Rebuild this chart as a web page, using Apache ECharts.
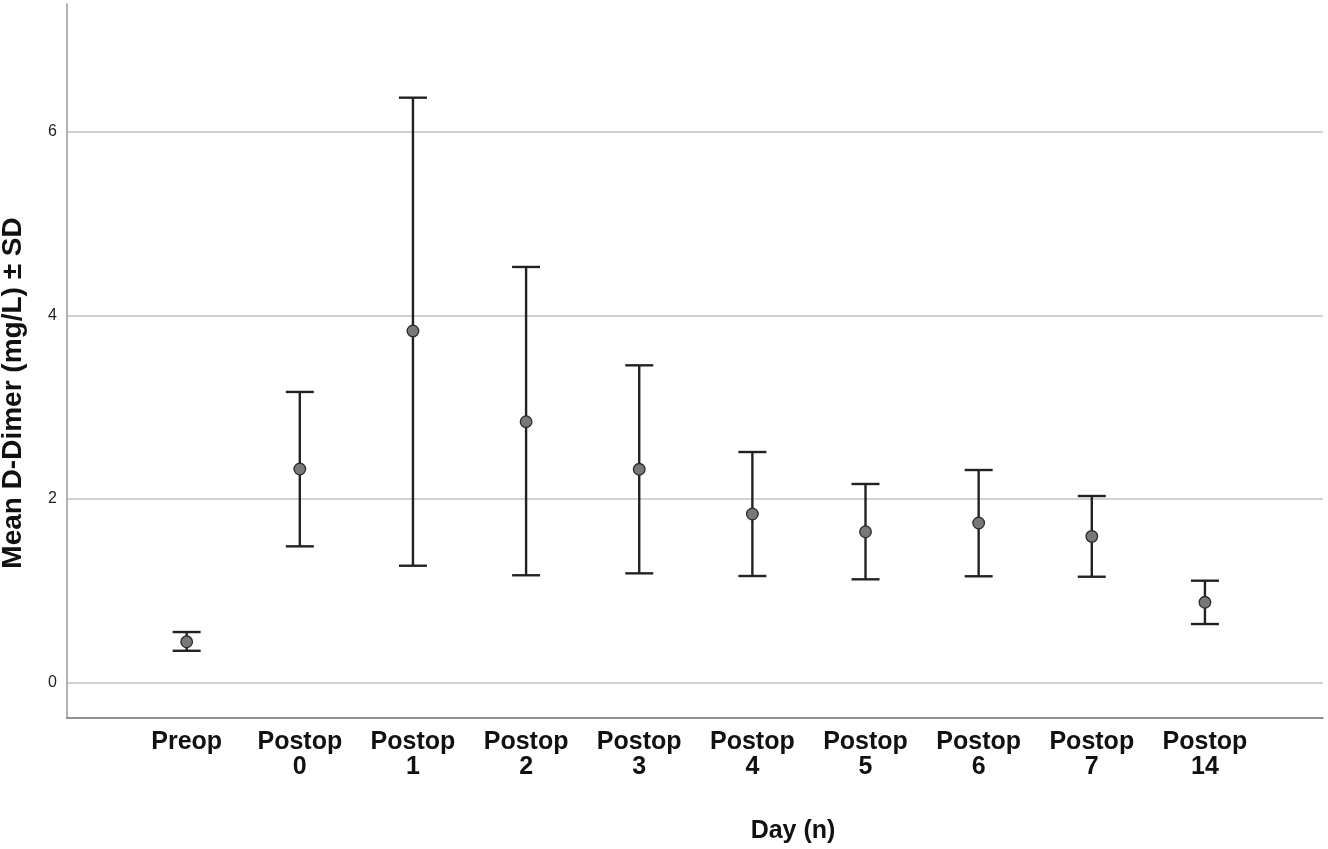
<!DOCTYPE html>
<html>
<head>
<meta charset="utf-8">
<script src="https://cdn.jsdelivr.net/npm/echarts@6/dist/echarts.min.js"></script>
<style>
html,body{margin:0;padding:0;background:#fff;}
#chart{width:1328px;height:849px;}
</style>
</head>
<body>
<div id="chart"></div>
<script>
const categories = ['Preop', 'Postop\n0', 'Postop\n1', 'Postop\n2', 'Postop\n3', 'Postop\n4', 'Postop\n5', 'Postop\n6', 'Postop\n7', 'Postop\n14'];
const means = [0.446, 2.327, 3.830, 2.842, 2.324, 1.837, 1.644, 1.739, 1.594, 0.876];
const lowerSD = [0.348, 1.485, 1.274, 1.170, 1.191, 1.162, 1.126, 1.159, 1.154, 0.639];
const upperSD = [0.552, 3.166, 6.370, 4.527, 3.456, 2.512, 2.164, 2.316, 2.033, 1.111];
const yMin = -0.384;
const yMax = 7.39;
const yTitle = 'Mean D-Dimer (mg/L) ± SD';
const xTitle = 'Day (n)';

const FONT = '"Liberation Sans", Arial, Helvetica, sans-serif';
const chart = echarts.init(document.getElementById('chart'));

const data = categories.map((c, i) => [i, means[i], lowerSD[i], upperSD[i]]);

chart.setOption({
  animation: false,
  backgroundColor: '#fff',
  grid: [
    { left: 130.1, right: 66.5, top: 4, bottom: 131 },
    { left: 67, right: 5, top: 4, bottom: 131 }
  ],
  xAxis: [
    {
      type: 'category', gridIndex: 0, data: categories, boundaryGap: true,
      axisLine: { show: false }, axisTick: { show: false }, splitLine: { show: false },
      axisLabel: { interval: 0, margin: 12, fontSize: 25, lineHeight: 25, fontWeight: 'bold', color: '#111', fontFamily: FONT }
    },
    {
      type: 'value', gridIndex: 1, min: 0, max: 1,
      axisLine: { show: true, onZero: false, lineStyle: { color: '#6e6e6e', width: 1.5 } },
      axisTick: { show: false }, axisLabel: { show: false }, splitLine: { show: false }
    }
  ],
  yAxis: [
    { type: 'value', gridIndex: 0, min: yMin, max: yMax, show: false, splitLine: { show: false } },
    {
      type: 'value', gridIndex: 1, min: yMin, max: yMax, splitNumber: 4,
      axisLine: { show: true, onZero: false, lineStyle: { color: '#999', width: 1.5 } },
      axisTick: { show: false },
      axisLabel: { margin: 10, fontSize: 16, color: '#222', fontFamily: FONT, showMinLabel: false, showMaxLabel: false },
      splitLine: { show: true, showMinLine: false, showMaxLine: false, lineStyle: { color: '#c4c4c4', width: 1.5 } }
    }
  ],
  graphic: [
    { type: 'text', x: 13, y: 393, rotation: Math.PI / 2,
      style: { text: yTitle, font: 'bold 28px ' + FONT, fill: '#111', align: 'center', verticalAlign: 'middle' } },
    { type: 'text', x: 793, y: 831,
      style: { text: xTitle, font: 'bold 25px ' + FONT, fill: '#111', align: 'center', verticalAlign: 'middle' } }
  ],
  series: [{
    type: 'custom', xAxisIndex: 0, yAxisIndex: 0, z: 5,
    data: data,
    renderItem: function (params, api) {
      const x = api.value(0);
      const c = api.coord([x, api.value(1)]);
      const lo = api.coord([x, api.value(2)]);
      const hi = api.coord([x, api.value(3)]);
      const hw = 14;
      const ls = { stroke: '#222', lineWidth: 2.4 };
      return {
        type: 'group',
        children: [
          { type: 'line', shape: { x1: c[0], y1: hi[1], x2: c[0], y2: lo[1] }, style: ls },
          { type: 'line', shape: { x1: c[0] - hw, y1: hi[1], x2: c[0] + hw, y2: hi[1] }, style: ls },
          { type: 'line', shape: { x1: c[0] - hw, y1: lo[1], x2: c[0] + hw, y2: lo[1] }, style: ls },
          { type: 'circle', shape: { cx: c[0], cy: c[1], r: 5.8 }, style: { fill: '#787878', stroke: '#2a2a2a', lineWidth: 1.3 } }
        ]
      };
    }
  }]
});
</script>
</body>
</html>
